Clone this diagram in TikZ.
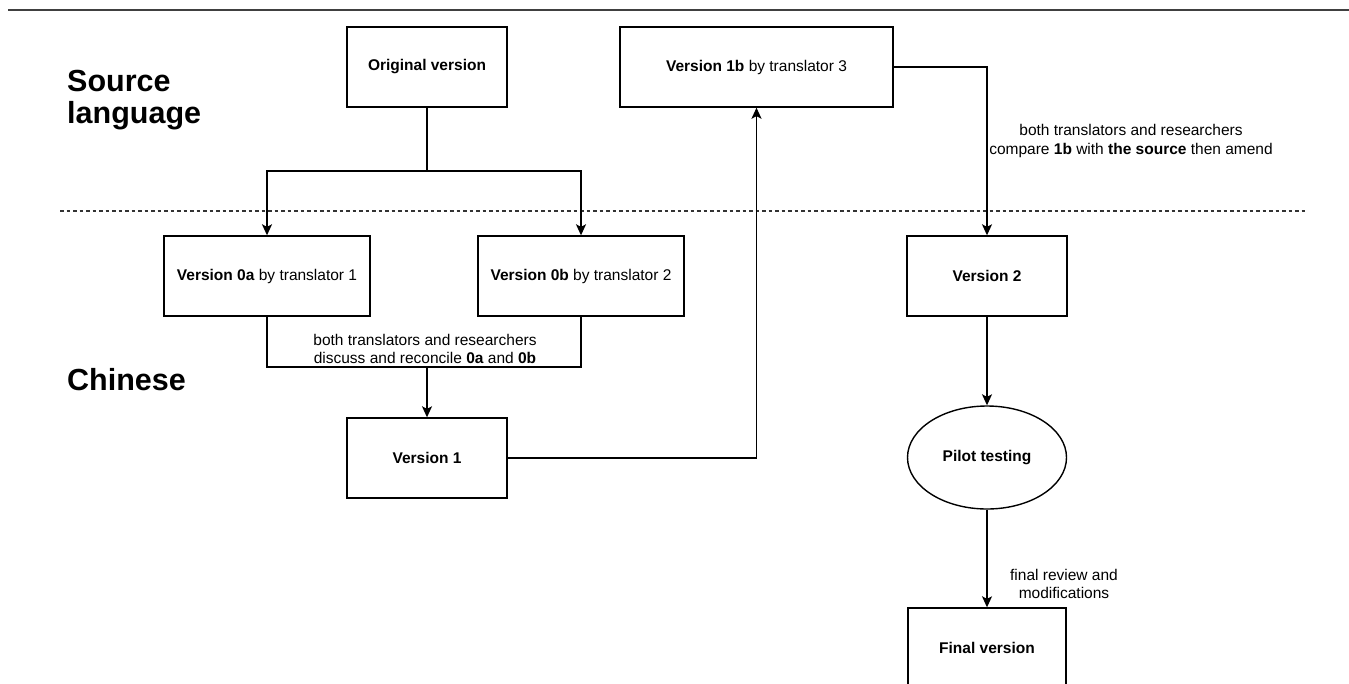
\documentclass[tikz,border=0pt]{standalone}
\usepackage{fontspec}
\setmainfont{Liberation Sans}
\usetikzlibrary{arrows.meta,shapes.geometric}

\begin{document}
\begin{tikzpicture}[x=1pt,y=-1pt,
  every node/.style={font=\fontsize{15.5}{18.6}\selectfont},
  box/.style={draw,line width=1.4pt,inner sep=0pt,minimum height=80pt,align=center},
  conn/.style={line width=1.4pt},
  arr/.style={conn,-{Stealth[length=11pt,width=10pt,inset=2.5pt]}},
  lbl/.style={align=center,inner sep=0pt},
  heading/.style={font=\fontsize{30.5}{32}\selectfont\bfseries,align=left,inner sep=0pt,anchor=base west}]

% page frame
\useasboundingbox (0,0) rectangle (1349,683);
\clip (0,0) rectangle (1349,683);
\fill[white] (0,0) rectangle (1349,683);

% rule at the top
\draw[line width=2.5pt,black!75] (8,10) -- (1349,10);

% language headings
\node[heading] (hsrc) at (67,91) {Source};
\node[heading] (hlang) at (67,123) {language};
\node[heading] (hzh) at (67,390) {Chinese};

% dashed border between the languages
\draw[line width=1.2pt,black!80,dash pattern=on 3.5pt off 3pt] (60,211) -- (1308,211);

% source language boxes
\node[box,minimum width=160pt] (orig) at (427,67) {\textbf{Original version}};
\node[box,minimum width=273pt] (v1b) at (756.5,67) {\textbf{Version 1b} by translator 3};

% forward translations
\node[box,minimum width=206pt] (v0a) at (267,276) {\textbf{Version 0a} by translator 1};
\node[box,minimum width=206pt] (v0b) at (581,276) {\textbf{Version 0b} by translator 2};

% reconciled and later versions
\node[box,minimum width=160pt] (v1) at (427,458) {\textbf{Version 1}};
\node[box,minimum width=160pt] (v2) at (987,276) {\textbf{Version 2}};
\node[draw,ellipse,line width=1.4pt,inner sep=0pt,minimum width=159pt,minimum height=103pt] (pilot) at (987,457.5) {\textbf{Pilot testing}};
\node[box,minimum width=158pt] (final) at (987,648) {\textbf{Final version}};

% split of the original
\coordinate (split) at (427,171);
\draw[conn] (orig.south) -- (split);
\draw[arr] (split) -| (v0a.north);
\draw[arr] (split) -| (v0b.north);

% reconciling 0a and 0b
\coordinate (merge) at (427,367);
\draw[conn] (v0a.south) |- (merge) -| (v0b.south);
\draw[arr] (merge) -- (v1.north);
\node[lbl] (lblrec) at (425,349) {both translators and researchers\\discuss and reconcile \textbf{0a} and \textbf{0b}};

% back translation
\draw[arr] (v1.east) -| (v1b.south);
\draw[arr] (v1b.east) -| (v2.north);
\node[lbl] (lblcmp) at (1131,141) {both translators and researchers\\compare \textbf{1b} with \textbf{the source} then amend};

% testing and review
\draw[arr] (v2.south) -- (pilot.north);
\draw[arr] (pilot.south) -- (final.north);
\node[lbl] (lblrev) at (1064,584) {final review and\\modifications};

\end{tikzpicture}
\end{document}
